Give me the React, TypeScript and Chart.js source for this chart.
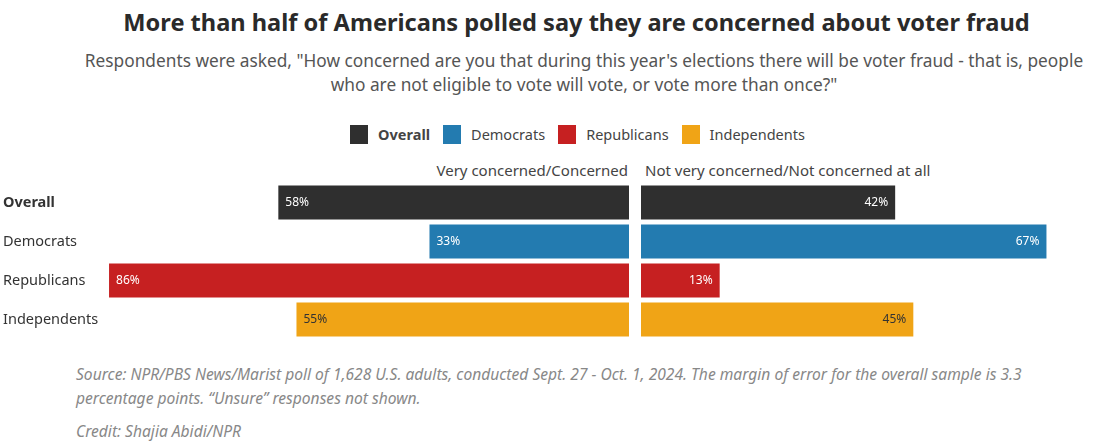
import React, { useEffect, useRef } from "react";
import { Chart, registerables } from "chart.js";

Chart.register(...registerables);

const categories = ["Overall", "Democrats", "Republicans", "Independents"];
const concerned = [58, 33, 86, 55];
const notConcerned = [42, 67, 13, 45];
const colors = ["#2f2f2f", "#237bb0", "#c62021", "#f0a416"];
const labelColors = ["#ffffff", "#ffffff", "#ffffff", "#333333"];
const title = "More than half of Americans polled say they are concerned about voter fraud";
const subtitle1 =
  'Respondents were asked, "How concerned are you that during this year\'s elections there will be voter fraud - that is, people';
const subtitle2 = 'who are not eligible to vote will vote, or vote more than once?"';
const leftHeader = "Very concerned/Concerned";
const rightHeader = "Not very concerned/Not concerned at all";
const source1 =
  "Source: NPR/PBS News/Marist poll of 1,628 U.S. adults, conducted Sept. 27 - Oct. 1, 2024. The margin of error for the overall sample is 3.3";
const source2 = "percentage points. \u201cUnsure\u201d responses not shown.";
const credit = "Credit: Shajia Abidi/NPR";

const FONT = "'Noto Sans', 'Open Sans', sans-serif";

const valueLabelPlugin = (side: "left" | "right") => ({
  id: "valueLabels" + side,
  afterDatasetsDraw(chart: any) {
    const ctx = chart.ctx;
    const meta = chart.getDatasetMeta(0);
    const data = chart.data.datasets[0].data as number[];
    ctx.save();
    ctx.font = `12px ${FONT}`;
    ctx.textBaseline = "middle";
    meta.data.forEach((el: any, i: number) => {
      ctx.fillStyle = labelColors[i];
      const txt = `${data[i]}%`;
      if (side === "left") {
        ctx.textAlign = "left";
        ctx.fillText(txt, el.x + 7, el.y);
      } else {
        ctx.textAlign = "right";
        ctx.fillText(txt, el.x - 7, el.y);
      }
    });
    ctx.restore();
  },
});

function BarChart({ side }: { side: "left" | "right" }) {
  const ref = useRef<HTMLCanvasElement | null>(null);
  useEffect(() => {
    if (!ref.current) return;
    const isLeft = side === "left";
    const chart = new Chart(ref.current, {
      type: "bar",
      data: {
        labels: categories,
        datasets: [
          {
            data: isLeft ? concerned : notConcerned,
            backgroundColor: colors,
            borderWidth: 0,
            categoryPercentage: 1,
            barPercentage: 34 / 39,
          },
        ],
      },
      options: {
        indexAxis: "y",
        animation: false,
        responsive: true,
        maintainAspectRatio: false,
        layout: { padding: { left: isLeft ? 3 : 0, right: 0, top: 0, bottom: 0 } },
        plugins: { legend: { display: false }, tooltip: { enabled: false } },
        scales: {
          x: {
            display: false,
            reverse: isLeft,
            min: 0,
            max: isLeft ? 87 : 77.5,
          },
          y: {
            display: isLeft,
            grid: { display: false },
            border: { display: false },
            afterFit: (scale: any) => {
              if (isLeft) {
                scale.width = 100;
                scale.paddingTop = 0;
                scale.paddingBottom = 0;
              }
            },
            ticks: {
              crossAlign: "far",
              padding: 0,
              color: "#333333",
              font: (c: any) => ({
                family: FONT,
                size: 14.5,
                weight: c.index === 0 ? "bold" : "normal",
              }),
            },
          },
        },
      },
      plugins: [valueLabelPlugin(side)],
    });
    return () => chart.destroy();
  }, [side]);
  return <canvas ref={ref} />;
}

export default function App() {
  const legendItems = categories.map((c, i) => (
    <div key={c} style={{ display: "flex", alignItems: "center", marginRight: i < 3 ? 13 : 0 }}>
      <div style={{ width: 18, height: 19, background: colors[i], marginRight: 10 }} />
      <span style={{ fontWeight: i === 0 ? "bold" : "normal" }}>{c}</span>
    </div>
  ));
  return (
    <div
      style={{
        position: "absolute",
        left: 0,
        top: 0,
        width: 1110,
        height: 445,
        background: "#fff",
        fontFamily: FONT,
        overflow: "hidden",
      }}
    >
      <div
        style={{
          position: "absolute",
          left: 0,
          width: 1153,
          top: 6,
          textAlign: "center",
          fontSize: 23.6,
          fontWeight: "bold",
          color: "#2a2a2a",
          lineHeight: "32px",
          whiteSpace: "nowrap",
        }}
      >
        {title}
      </div>
      <div
        style={{
          position: "absolute",
          left: 0,
          width: 1168,
          top: 49,
          textAlign: "center",
          fontSize: 17.3,
          color: "#555555",
          lineHeight: "24px",
          whiteSpace: "nowrap",
        }}
      >
        {subtitle1}
        <br />
        {subtitle2}
      </div>
      <div
        style={{
          position: "absolute",
          left: 0,
          width: 1155,
          top: 124,
          display: "flex",
          justifyContent: "center",
          fontSize: 14.5,
          color: "#444",
          lineHeight: "20px",
        }}
      >
        {legendItems}
      </div>
      <div
        style={{
          position: "absolute",
          right: 1110 - 628,
          top: 160,
          fontSize: 15,
          color: "#444",
          lineHeight: "20px",
          whiteSpace: "nowrap",
        }}
      >
        {leftHeader}
      </div>
      <div
        style={{
          position: "absolute",
          left: 645,
          top: 160,
          fontSize: 15,
          color: "#444",
          lineHeight: "20px",
          whiteSpace: "nowrap",
        }}
      >
        {rightHeader}
      </div>
      <div style={{ position: "absolute", left: 0, top: 183, width: 629, height: 156 }}>
        <BarChart side="left" />
      </div>
      <div style={{ position: "absolute", left: 641, top: 183, width: 469, height: 156 }}>
        <BarChart side="right" />
      </div>
      <div
        style={{
          position: "absolute",
          left: 76,
          top: 362,
          fontSize: 15.6,
          fontStyle: "italic",
          color: "#888",
          lineHeight: "24px",
          whiteSpace: "nowrap",
        }}
      >
        {source1}
        <br />
        {source2}
        <div style={{ marginTop: 9 }}>{credit}</div>
      </div>
    </div>
  );
}
